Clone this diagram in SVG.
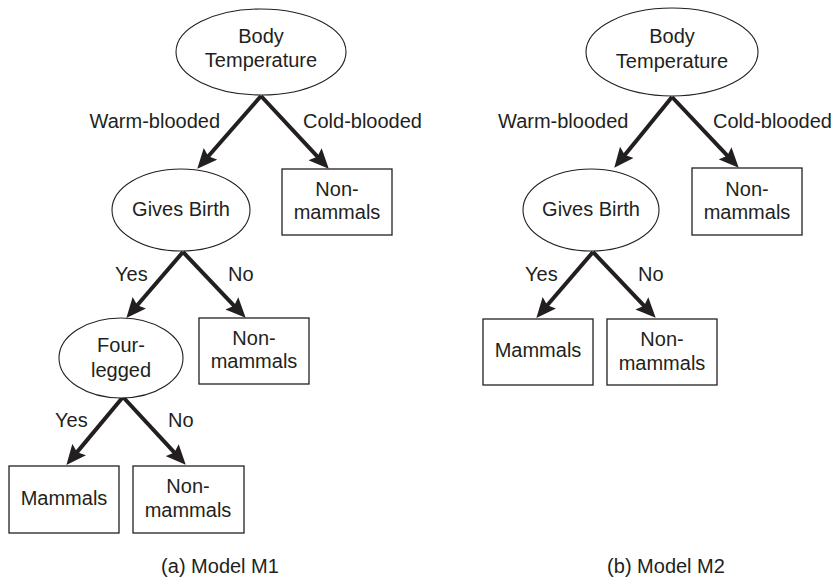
<svg xmlns="http://www.w3.org/2000/svg" width="833" height="581" viewBox="0 0 833 581">
<style>
  text { font-family: "Liberation Sans", Arial, sans-serif; font-size: 20px; fill: #231f20; }
  .c { text-anchor: middle; }
  .oval { fill: #ffffff; stroke: #231f20; stroke-width: 1.1; }
  .box { fill: #ffffff; stroke: #231f20; stroke-width: 1.3; }
  .arr { stroke: #231f20; stroke-width: 4; fill: none; marker-end: url(#ah); }
</style>
<defs>
  <marker id="ah" markerUnits="userSpaceOnUse" markerWidth="20" markerHeight="18" viewBox="0 0 18 16" refX="8" refY="8" orient="auto">
    <path d="M0,0 L18,8 L0,16 L3,8 z" fill="#231f20"/>
  </marker>
</defs>
<rect width="833" height="581" fill="#ffffff"/>

<g id="connectors">
  <line class="arr" x1="261" y1="96" x2="204.6" y2="160.5"/>
  <line class="arr" x1="261" y1="96" x2="321.2" y2="160.7"/>
  <line class="arr" x1="183" y1="252" x2="133.6" y2="309.5"/>
  <line class="arr" x1="183" y1="252" x2="238" y2="309.8"/>
  <line class="arr" x1="123" y1="397" x2="73.5" y2="456.4"/>
  <line class="arr" x1="123" y1="397" x2="178.2" y2="456.7"/>
  <line class="arr" x1="672" y1="97" x2="621.3" y2="159.2"/>
  <line class="arr" x1="672" y1="97" x2="731.1" y2="159.7"/>
  <line class="arr" x1="593" y1="252" x2="543.6" y2="309.5"/>
  <line class="arr" x1="593" y1="252" x2="648" y2="309.8"/>
</g>

<g id="edge-labels">
  <text x="220" y="128" text-anchor="end">Warm-blooded</text>
  <text x="303" y="128">Cold-blooded</text>
  <text x="115" y="281">Yes</text>
  <text x="228" y="281">No</text>
  <text x="55" y="427">Yes</text>
  <text x="168" y="427">No</text>
  <text x="498" y="128">Warm-blooded</text>
  <text x="713" y="128">Cold-blooded</text>
  <text x="525" y="281">Yes</text>
  <text x="638" y="281">No</text>
</g>

<!-- Model M1 -->
<g id="m1-body-temp">
  <ellipse class="oval" cx="261" cy="52" rx="85" ry="43"/>
  <text class="c" x="261" y="43">Body</text>
  <text class="c" x="261" y="67">Temperature</text>
</g>
<g id="m1-gives-birth">
  <ellipse class="oval" cx="181" cy="210" rx="69" ry="41"/>
  <text class="c" x="181" y="216">Gives Birth</text>
</g>
<g id="m1-nonmammals-1">
  <rect class="box" x="282" y="169" width="110" height="66"/>
  <text class="c" x="337" y="196">Non-</text>
  <text class="c" x="337" y="219">mammals</text>
</g>
<g id="m1-four-legged">
  <ellipse class="oval" cx="121" cy="358" rx="62" ry="40"/>
  <text class="c" x="121" y="352">Four-</text>
  <text class="c" x="121" y="377">legged</text>
</g>
<g id="m1-nonmammals-2">
  <rect class="box" x="199" y="318" width="110" height="66"/>
  <text class="c" x="254" y="345">Non-</text>
  <text class="c" x="254" y="368">mammals</text>
</g>
<g id="m1-mammals">
  <rect class="box" x="9" y="466" width="110" height="67"/>
  <text class="c" x="64" y="505">Mammals</text>
</g>
<g id="m1-nonmammals-3">
  <rect class="box" x="133" y="466" width="111" height="67"/>
  <text class="c" x="188" y="493">Non-</text>
  <text class="c" x="188" y="517">mammals</text>
</g>
<text class="c" x="220" y="573">(a) Model M1</text>

<!-- Model M2 -->
<g id="m2-body-temp">
  <ellipse class="oval" cx="672" cy="52" rx="86" ry="44"/>
  <text class="c" x="672" y="43">Body</text>
  <text class="c" x="672" y="68">Temperature</text>
</g>
<g id="m2-gives-birth">
  <ellipse class="oval" cx="591" cy="210" rx="68" ry="41"/>
  <text class="c" x="591" y="216">Gives Birth</text>
</g>
<g id="m2-nonmammals-1">
  <rect class="box" x="692" y="168" width="110" height="67"/>
  <text class="c" x="747" y="196">Non-</text>
  <text class="c" x="747" y="219">mammals</text>
</g>
<g id="m2-mammals">
  <rect class="box" x="483" y="319" width="110" height="66"/>
  <text class="c" x="538" y="357">Mammals</text>
</g>
<g id="m2-nonmammals-2">
  <rect class="box" x="607" y="319" width="110" height="66"/>
  <text class="c" x="662" y="346">Non-</text>
  <text class="c" x="662" y="370">mammals</text>
</g>
<text class="c" x="666" y="573">(b) Model M2</text>
</svg>
